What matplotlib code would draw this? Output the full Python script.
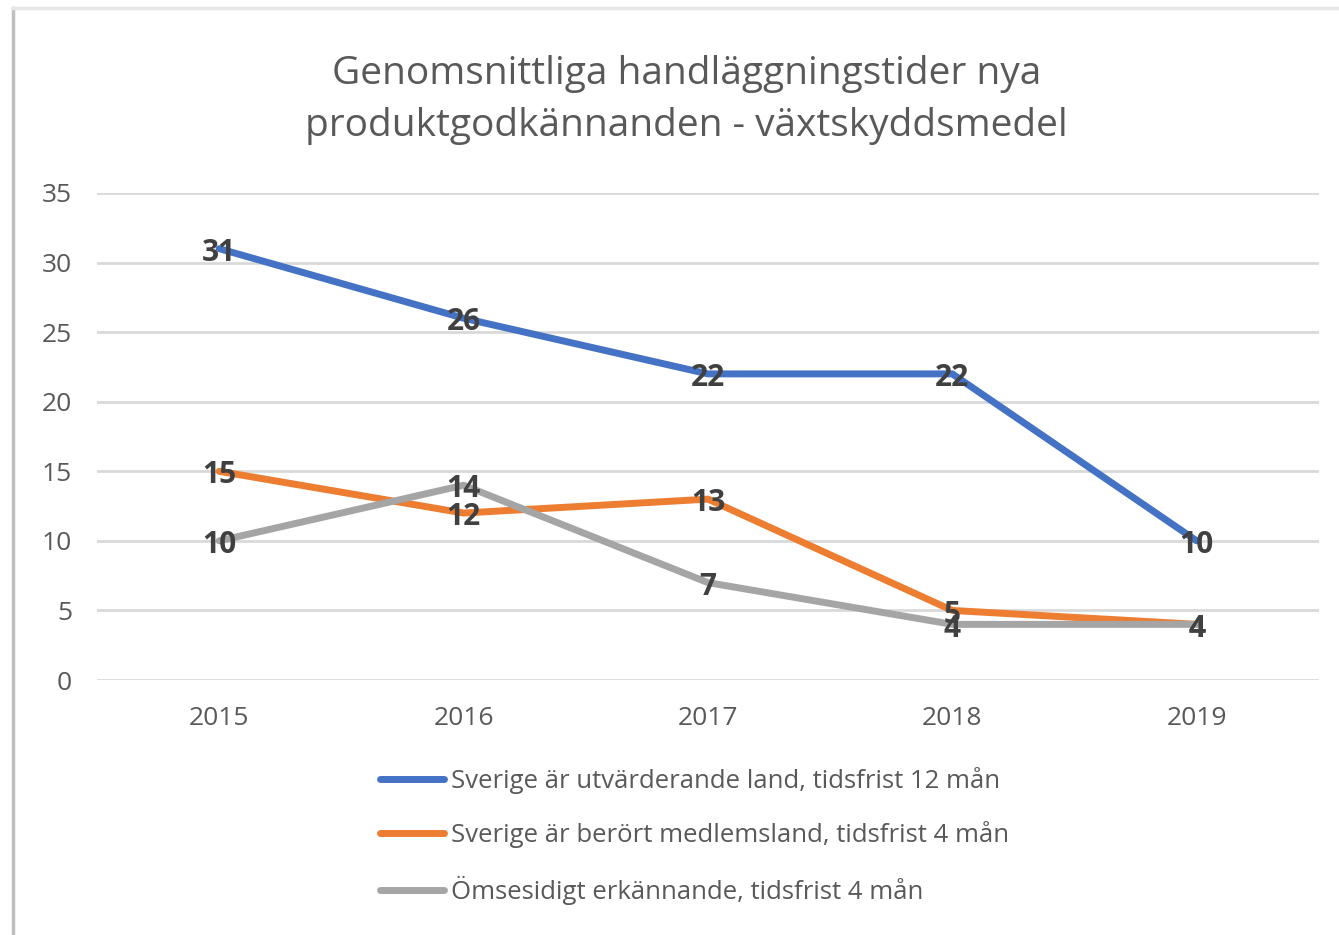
import matplotlib
matplotlib.use("Agg")
import matplotlib.pyplot as plt
from matplotlib.lines import Line2D

plt.rcParams['font.family'] = ['Open Sans', 'DejaVu Sans']

years = ["2015", "2016", "2017", "2018", "2019"]
series_names = [
    "Sverige är utvärderande land, tidsfrist 12 mån",
    "Sverige är berört medlemsland, tidsfrist 4 mån",
    "Ömsesidigt erkännande, tidsfrist 4 mån",
]
utvarderande = [31, 26, 22, 22, 10]
berort = [15, 12, 13, 5, 4]
omsesidigt = [10, 14, 7, 4, 4]
yticks = [0, 5, 10, 15, 20, 25, 30, 35]
title = "Genomsnittliga handläggningstider nya\nproduktgodkännanden - växtskyddsmedel"

colors = ["#4472C4", "#ED7D31", "#A5A5A5"]

fig = plt.figure(figsize=(13.39, 9.35), dpi=100)
ax = fig.add_axes([0.0724, 0.2727, 0.9126, 0.5209])

x = list(range(len(years)))
all_series = [utvarderande, berort, omsesidigt]
for vals, c, name in zip(all_series, colors, series_names):
    ax.plot(x, vals, color=c, lw=5, solid_capstyle='round', solid_joinstyle='round', label=name, zorder=3)

for vals in all_series:
    for xi, v in zip(x, vals):
        ax.annotate(str(v), (xi, v), xytext=(0, -3), textcoords='offset points',
                    ha='center', va='center', fontsize=21.5, fontweight='bold',
                    color='#404040', zorder=5)

ax.set_xlim(-0.5, len(years) - 0.5)
ax.set_ylim(0, 35)
ax.set_yticks(yticks)
ax.set_xticks(x)
ax.set_xticklabels(years)
ax.grid(axis='y', color='#D9D9D9', lw=2)
ax.set_axisbelow(True)
for s in ax.spines.values():
    s.set_visible(False)
ax.tick_params(axis='both', length=0, labelsize=19, labelcolor='#595959')
ax.tick_params(axis='x', pad=19)
ax.tick_params(axis='y', pad=18)

fig.text(0.5125, 0.893, title, ha='center', va='center', fontsize=28, color='#595959',
         linespacing=1.5)

handles = [Line2D([0], [0], color=c, lw=5, solid_capstyle='round') for c in colors]
fig.legend(handles, series_names, loc='center left', bbox_to_anchor=(0.2838, 0.106),
           frameon=False, fontsize=18.5, labelcolor='#595959', handlelength=2.5,
           handletextpad=0.27, labelspacing=1.08, borderpad=0, borderaxespad=0)

# chart border (left and top edges)
fig.add_artist(Line2D([0.0095, 0.0095], [0.0, 0.991], color='#BFBFBF', lw=2.5, transform=fig.transFigure))
fig.add_artist(Line2D([0.0095, 1.0], [0.991, 0.991], color='#E6E6E6', lw=2.5, transform=fig.transFigure))

fig.savefig("out.png", dpi=100)
